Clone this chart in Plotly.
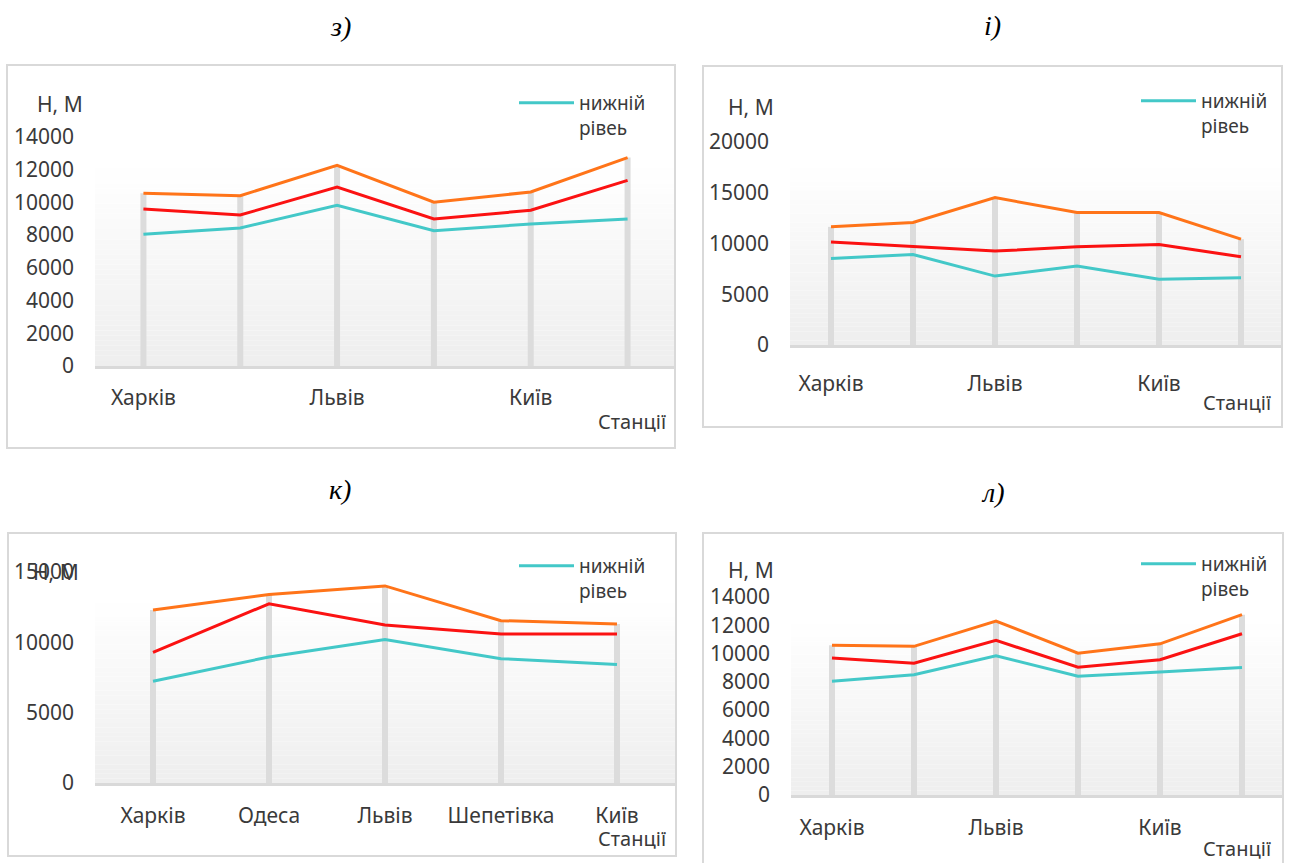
import plotly.graph_objects as go

# ---------------- data ----------------
# six-station panels: only every second station name is printed on the axis
six_positions = [0, 1, 2, 3, 4, 5]
six_label_positions = [0, 2, 4]
six_labels = ["Харків", "Львів", "Київ"]

# five-station panel
five_stations = ["Харків", "Одеса", "Львів", "Шепетівка", "Київ"]

# panel з)
z_lower = [8050, 8440, 9820, 8270, 8680, 8990]
z_mid = [9600, 9230, 10940, 8990, 9520, 11350]
z_upper = [10560, 10410, 12270, 10010, 10640, 12740]

# panel і)
i_lower = [8520, 8920, 6790, 7770, 6490, 6620]
i_mid = [10160, 9670, 9250, 9670, 9900, 8690]
i_upper = [11640, 12070, 14520, 13050, 13050, 10430]

# panel к)
k_lower = [7240, 8960, 10200, 8840, 8420]
k_mid = [9290, 12740, 11240, 10600, 10600]
k_upper = [12300, 13400, 14010, 11540, 11310]

# panel л)
l_lower = [8050, 8500, 9840, 8400, 8690, 9020]
l_mid = [9680, 9320, 10930, 9040, 9560, 11400]
l_upper = [10580, 10510, 12300, 10030, 10690, 12750]

legend_name = "нижній<br>рівеь"
y_title = "Н, М"
x_title = "Станції"

# ---------------- style ----------------
W, H = 1293, 863
FONT = "Noto Sans"
TXT = "#3a3a3a"
C_LOWER = "#43c8c8"
C_MID = "#fb1212"
C_UPPER = "#ff7419"
C_DROP = "#dcdcdc"
C_FRAME = "#d9d9d9"


def px_x(v):
    return v / W


def px_y(v):
    return 1 - v / H


# each panel: frame box, plot box (left, right, bottom, top in px), axis range/step,
# gradient top as a share of the plot height, label positions
panels = [
    dict(name="з)", title_xy=(340, 27), frame=(7, 65, 675, 448),
         plot=(95, 676, 366, 137), yrange=14000, dtick=2000, grad=0.886,
         x=six_positions, tickvals=six_label_positions, ticktext=six_labels,
         lower=z_lower, mid=z_mid, upper=z_upper, xstand=11,
         ytitle=(60, 104), xtitle=(668, 422), legend=(514, 84), fs=21),
    dict(name="і)", title_xy=(993, 25), frame=(703, 66, 1282, 427),
         plot=(790, 1282, 345, 142), yrange=20000, dtick=5000, grad=0.893,
         x=six_positions, tickvals=six_label_positions, ticktext=six_labels,
         lower=i_lower, mid=i_mid, upper=i_upper, xstand=18,
         ytitle=(751, 107), xtitle=(1273, 402), legend=(1136, 82), fs=21),
    dict(name="к)", title_xy=(340, 490), frame=(8, 533, 676, 856),
         plot=(95, 675, 783, 572), yrange=15000, dtick=5000, grad=0.875,
         x=list(range(len(five_stations))), tickvals=list(range(len(five_stations))),
         ticktext=five_stations,
         lower=k_lower, mid=k_mid, upper=k_upper, xstand=12,
         ytitle=(56, 572), xtitle=(668, 838), legend=(514, 547), fs=21),
    dict(name="л)", title_xy=(993, 492), frame=(703, 533, 1283, 875),
         plot=(791, 1283, 795, 597), yrange=14000, dtick=2000, grad=0.886,
         x=six_positions, tickvals=six_label_positions, ticktext=six_labels,
         lower=l_lower, mid=l_mid, upper=l_upper, xstand=12,
         ytitle=(751, 570), xtitle=(1273, 848), legend=(1136, 545), fs=21),
]

fig = go.Figure()
shapes = []
annotations = []
layout = {}

for n, p in enumerate(panels, start=1):
    sfx = "" if n == 1 else str(n)
    xa, ya = "x" + sfx, "y" + sfx
    leg = "legend" + sfx
    left, right, bottom, top = p["plot"]
    fs = p["fs"]

    # drop lines from the upper curve to the axis
    dx, dy = [], []
    for xv, yv in zip(p["x"], p["upper"]):
        dx += [xv, xv, None]
        dy += [0, yv, None]
    fig.add_trace(go.Scatter(x=dx, y=dy, mode="lines", xaxis=xa, yaxis=ya,
                             line=dict(color=C_DROP, width=6), showlegend=False,
                             hoverinfo="skip"))
    fig.add_trace(go.Scatter(x=p["x"], y=p["lower"], mode="lines", name=legend_name,
                             xaxis=xa, yaxis=ya, legend=leg,
                             line=dict(color=C_LOWER, width=3)))
    fig.add_trace(go.Scatter(x=p["x"], y=p["mid"], mode="lines", xaxis=xa, yaxis=ya,
                             line=dict(color=C_MID, width=3), showlegend=False))
    fig.add_trace(go.Scatter(x=p["x"], y=p["upper"], mode="lines", xaxis=xa, yaxis=ya,
                             line=dict(color=C_UPPER, width=3), showlegend=False))

    nx = len(p["x"])
    layout["xaxis" + sfx] = dict(
        domain=[px_x(left), px_x(right)], anchor=ya, range=[-0.5, nx - 0.5],
        tickvals=p["tickvals"], ticktext=p["ticktext"], showgrid=False,
        zeroline=False, showline=True, linecolor=C_FRAME, linewidth=3,
        ticks="", ticklabelstandoff=p["xstand"], automargin=False,
        tickfont=dict(family=FONT, size=fs, color=TXT), fixedrange=True)
    layout["yaxis" + sfx] = dict(
        domain=[px_y(bottom), px_y(top)], anchor=xa, range=[0, p["yrange"]],
        dtick=p["dtick"], tick0=0, tickformat="d", showgrid=False, zeroline=False,
        showline=False, ticks="", ticklabelstandoff=20, automargin=False,
        tickfont=dict(family=FONT, size=fs, color=TXT), fixedrange=True)

    lx, ly = p["legend"]
    layout[leg] = dict(x=px_x(lx), y=px_y(ly), xanchor="left", yanchor="top",
                       bgcolor="rgba(0,0,0,0)", valign="top", itemwidth=55,
                       font=dict(family=FONT, size=fs - 2, color=TXT),
                       tracegroupgap=0)

    # soft vertical gradient inside the plot area
    steps = 40
    for s in range(steps):
        f0 = p["grad"] * s / steps
        f1 = p["grad"] * (s + 1) / steps
        g = int(round(238 + (255 - 238) * (s + 0.5) / steps))
        shapes.append(dict(type="rect", xref=xa + " domain", yref=ya + " domain",
                           x0=0, x1=1, y0=f0, y1=f1, line=dict(width=0),
                           fillcolor=f"rgb({g},{g},{g})", layer="below"))

    fx0, fy0, fx1, fy1 = p["frame"]
    shapes.append(dict(type="rect", xref="paper", yref="paper",
                       x0=px_x(fx0), x1=px_x(fx1), y0=px_y(fy0), y1=px_y(fy1),
                       line=dict(color=C_FRAME, width=2), fillcolor="rgba(0,0,0,0)",
                       layer="below"))

    tx, ty = p["title_xy"]
    annotations.append(dict(text=p["name"], x=px_x(tx), y=px_y(ty), xref="paper",
                            yref="paper", showarrow=False, xanchor="center",
                            yanchor="middle",
                            font=dict(family="Liberation Serif", size=28, color="#000",
                                      style="italic")))
    yx, yy = p["ytitle"]
    annotations.append(dict(text=y_title, x=px_x(yx), y=px_y(yy), xref="paper",
                            yref="paper", showarrow=False, xanchor="center",
                            yanchor="middle", font=dict(family=FONT, size=fs, color=TXT)))
    sx, sy = p["xtitle"]
    annotations.append(dict(text=x_title, x=px_x(sx), y=px_y(sy), xref="paper",
                            yref="paper", showarrow=False, xanchor="right",
                            yanchor="middle", font=dict(family=FONT, size=fs - 1, color=TXT)))

fig.update_layout(
    width=W, height=H, margin=dict(l=0, r=0, t=0, b=0, autoexpand=False),
    paper_bgcolor="white", plot_bgcolor="rgba(0,0,0,0)",
    shapes=shapes, annotations=annotations, hovermode=False,
    **layout)

fig.write_html("out.html", config={"displayModeBar": False})
